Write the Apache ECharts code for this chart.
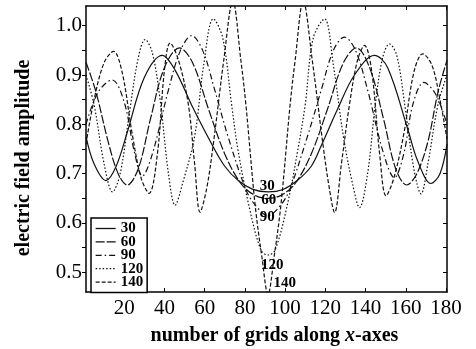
<!DOCTYPE html>
<html>
<head>
<meta charset="utf-8">
<script src="https://cdn.jsdelivr.net/npm/echarts@6/dist/echarts.min.js"></script>
<style>
  html, body { margin: 0; background: #fff; }
  #chart { width: 476px; height: 349px; }
</style>
</head>
<body>
<div id="chart"></div>
<script>
// curve values (x = grid number, y = amplitude)
const x30 = [1, 5, 10.9, 16, 21.6, 30, 39, 45.3, 54, 63.5, 70, 76.7, 84, 91.5, 99, 106, 113, 118, 126, 134.5, 144.4, 151, 161, 166, 172.5, 177, 180.5];
const y30 = [0.775, 0.72, 0.686, 0.715, 0.785, 0.895, 0.94, 0.91, 0.835, 0.76, 0.715, 0.686, 0.668, 0.663, 0.668, 0.686, 0.715, 0.757, 0.83, 0.90, 0.94, 0.915, 0.79, 0.725, 0.68, 0.70, 0.76];

const x60 = [1, 6, 12, 17, 21.5, 27, 33, 40, 47.5, 54, 62, 70, 78, 85, 91.5, 98, 105, 113, 121, 129, 135.5, 142, 149, 155, 160.5, 165.5, 171, 176, 180.5];
const y60 = [0.926, 0.865, 0.765, 0.70, 0.677, 0.71, 0.81, 0.915, 0.955, 0.925, 0.83, 0.74, 0.68, 0.656, 0.65, 0.656, 0.68, 0.74, 0.83, 0.925, 0.955, 0.915, 0.81, 0.71, 0.677, 0.70, 0.765, 0.865, 0.93];

const x90 = [1, 7, 14, 20, 25, 29, 34, 42, 48, 53.5, 59, 65, 71.7, 80.8, 86, 91.5, 97, 102, 111, 118, 124, 129.5, 135, 141, 149, 154.3, 159, 163.5, 169, 175, 180.5];
const y90 = [0.80, 0.865, 0.89, 0.845, 0.745, 0.695, 0.74, 0.87, 0.95, 0.98, 0.95, 0.87, 0.774, 0.665, 0.632, 0.615, 0.632, 0.665, 0.774, 0.87, 0.95, 0.977, 0.95, 0.87, 0.74, 0.692, 0.74, 0.84, 0.885, 0.86, 0.80];

const x120 = [1, 5, 10, 14.2, 18, 23, 27, 30.4, 34, 38, 42, 45.3, 49, 55, 59.5, 64.3, 69, 73.4, 76.5, 82, 88, 91.5, 95, 101, 106.4, 110, 114, 119.6, 124, 129, 133.5, 137, 141, 145, 148.5, 151.9, 155.5, 159.5, 164, 167.6, 171, 176, 180.5];
const y120 = [0.90, 0.84, 0.72, 0.663, 0.70, 0.835, 0.935, 0.972, 0.945, 0.845, 0.70, 0.636, 0.68, 0.775, 0.92, 1.014, 0.975, 0.84, 0.75, 0.635, 0.545, 0.535, 0.545, 0.635, 0.75, 0.84, 0.975, 1.014, 0.92, 0.775, 0.68, 0.631, 0.70, 0.845, 0.935, 0.963, 0.94, 0.84, 0.71, 0.659, 0.72, 0.84, 0.90];

const x140 = [1, 5, 10, 14.7, 19, 24, 28.5, 32.4, 36.5, 40, 42.8, 47, 51.9, 55, 57.7, 61, 64.3, 69.5, 74, 78, 80.5, 85, 88.5, 91.5, 94.5, 98, 102.5, 105, 109, 113.5, 118.8, 122, 124.6, 128, 132, 136, 139.5, 143, 147, 150.2, 154, 159, 164, 168.4, 173, 177, 180.5];
const y140 = [0.76, 0.85, 0.925, 0.948, 0.905, 0.78, 0.69, 0.66, 0.74, 0.91, 0.965, 0.93, 0.84, 0.72, 0.622, 0.67, 0.76, 0.93, 1.05, 0.93, 0.84, 0.64, 0.53, 0.455, 0.53, 0.64, 0.84, 0.93, 1.05, 0.93, 0.76, 0.67, 0.621, 0.72, 0.84, 0.93, 0.96, 0.91, 0.74, 0.655, 0.69, 0.78, 0.905, 0.943, 0.92, 0.85, 0.77];

const xTicks = [20, 40, 60, 80, 100, 120, 140, 160, 180];
const yLabels = [0.5, 0.6, 0.7, 0.8, 0.9, 1.0];
const yTicks = [0.5, 0.55, 0.6, 0.65, 0.7, 0.75, 0.8, 0.85, 0.9, 0.95, 1.0];

// text written next to the curves at the centre dip
const tagNames = ['30', '60', '90', '120', '140'];
const tagX = [91.1, 91.9, 91.1, 93.6, 99.8];
const tagY = [0.675, 0.646, 0.612, 0.514, 0.477];

const FONT = '"Liberation Serif", "Times New Roman", serif';

const chart = echarts.init(document.getElementById('chart'));

const zip = (xs, ys) => xs.map((x, i) => [x, ys[i]]);

const styles = {
  '30': 'solid',
  '60': [9, 2],
  '90': [6, 3, 1.5, 3],
  '120': [1.5, 2],
  '140': [4, 2]
};

function makeSeries(name, xs, ys, idx) {
  const s = {
    name: name,
    type: 'line',
    data: zip(xs, ys),
    smooth: 0.35,
    symbol: 'none',
    showSymbol: false,
    clip: true,
    lineStyle: { color: '#111', width: 1.2, type: styles[name] },
    itemStyle: { color: '#111' },
    z: 3,
    markPoint: {
      symbol: 'circle',
      symbolSize: 0,
      silent: true,
      label: {
        show: true,
        position: 'inside',
        color: '#000',
        fontFamily: FONT,
        fontWeight: 'bold',
        fontSize: 15,
        formatter: tagNames[idx]
      },
      data: [{ coord: [tagX[idx], tagY[idx]] }]
    }
  };
  if (name === '140') {
    s.markLine = {
      silent: true,
      symbol: ['none', 'none'],
      label: { show: false },
      lineStyle: { color: '#000', width: 1, type: 'solid' },
      data: [[{ coord: [94.8, 0.459] }, { coord: [97.3, 0.488] }]]
    };
  }
  return s;
}

const option = {
  backgroundColor: '#fff',
  animation: false,
  grid: { left: 86, right: 29, top: 6, bottom: 57, outerBoundsMode: 'none', containLabel: false },
  legend: {
    orient: 'vertical',
    left: 91,
    top: 218,
    padding: [3, 4, 3, 4],
    itemGap: -1.6,
    itemWidth: 20,
    itemHeight: 10,
    itemTextGap: 3,
    borderColor: '#000',
    borderWidth: 1.5,
    borderRadius: 0,
    backgroundColor: '#fff',
    itemStyle: { opacity: 0 },
    lineStyle: { width: 1.3 },
    textStyle: { fontFamily: FONT, fontWeight: 'bold', fontSize: 15, color: '#000' },
    data: ['30', '60', '90', '120', '140']
  },
  xAxis: [
    {
      type: 'value',
      min: 1,
      max: 180.5,
      position: 'bottom',
      name: 'number of grids along {i|x}-axes',
      nameLocation: 'middle',
      nameGap: 34,
      nameTextStyle: {
        fontFamily: FONT, fontWeight: 'bold', fontSize: 20, color: '#000',
        padding: [0, 0, 0, 16],
        rich: { i: { fontFamily: FONT, fontWeight: 'bold', fontStyle: 'italic', fontSize: 20, color: '#000' } }
      },
      axisLine: { lineStyle: { color: '#000', width: 1.5 } },
      axisTick: { inside: true, length: 4, customValues: xTicks, lineStyle: { color: '#000' } },
      axisLabel: { customValues: xTicks, margin: 6, fontFamily: FONT, fontSize: 21, color: '#000' },
      splitLine: { show: false }
    },
    {
      type: 'value',
      min: 1,
      max: 180.5,
      position: 'top',
      axisLine: { lineStyle: { color: '#000', width: 1.5 } },
      axisTick: { inside: true, length: 4, customValues: xTicks, lineStyle: { color: '#000' } },
      axisLabel: { show: false },
      splitLine: { show: false }
    }
  ],
  yAxis: [
    {
      type: 'value',
      min: 0.46,
      max: 1.04,
      position: 'left',
      name: 'electric field amplitude',
      nameLocation: 'middle',
      nameGap: 38,
      nameTextStyle: { fontFamily: FONT, fontWeight: 'bold', fontSize: 20, color: '#000', padding: [0, 18, 14, 0] },
      axisLine: { lineStyle: { color: '#000', width: 1.5 } },
      axisTick: { inside: false, length: 4, customValues: yTicks, lineStyle: { color: '#000' } },
      axisLabel: {
        customValues: yLabels, margin: 4, fontFamily: FONT, fontSize: 21, color: '#000',
        formatter: v => v.toFixed(1)
      },
      splitLine: { show: false }
    },
    {
      type: 'value',
      min: 0.46,
      max: 1.04,
      position: 'right',
      axisLine: { lineStyle: { color: '#000', width: 1.5 } },
      axisTick: { inside: true, length: 4, customValues: yTicks, lineStyle: { color: '#000' } },
      axisLabel: { show: false },
      splitLine: { show: false }
    }
  ],
  series: [
    makeSeries('30', x30, y30, 0),
    makeSeries('60', x60, y60, 1),
    makeSeries('90', x90, y90, 2),
    makeSeries('120', x120, y120, 3),
    makeSeries('140', x140, y140, 4)
  ]
};

chart.setOption(option);
</script>
</body>
</html>
